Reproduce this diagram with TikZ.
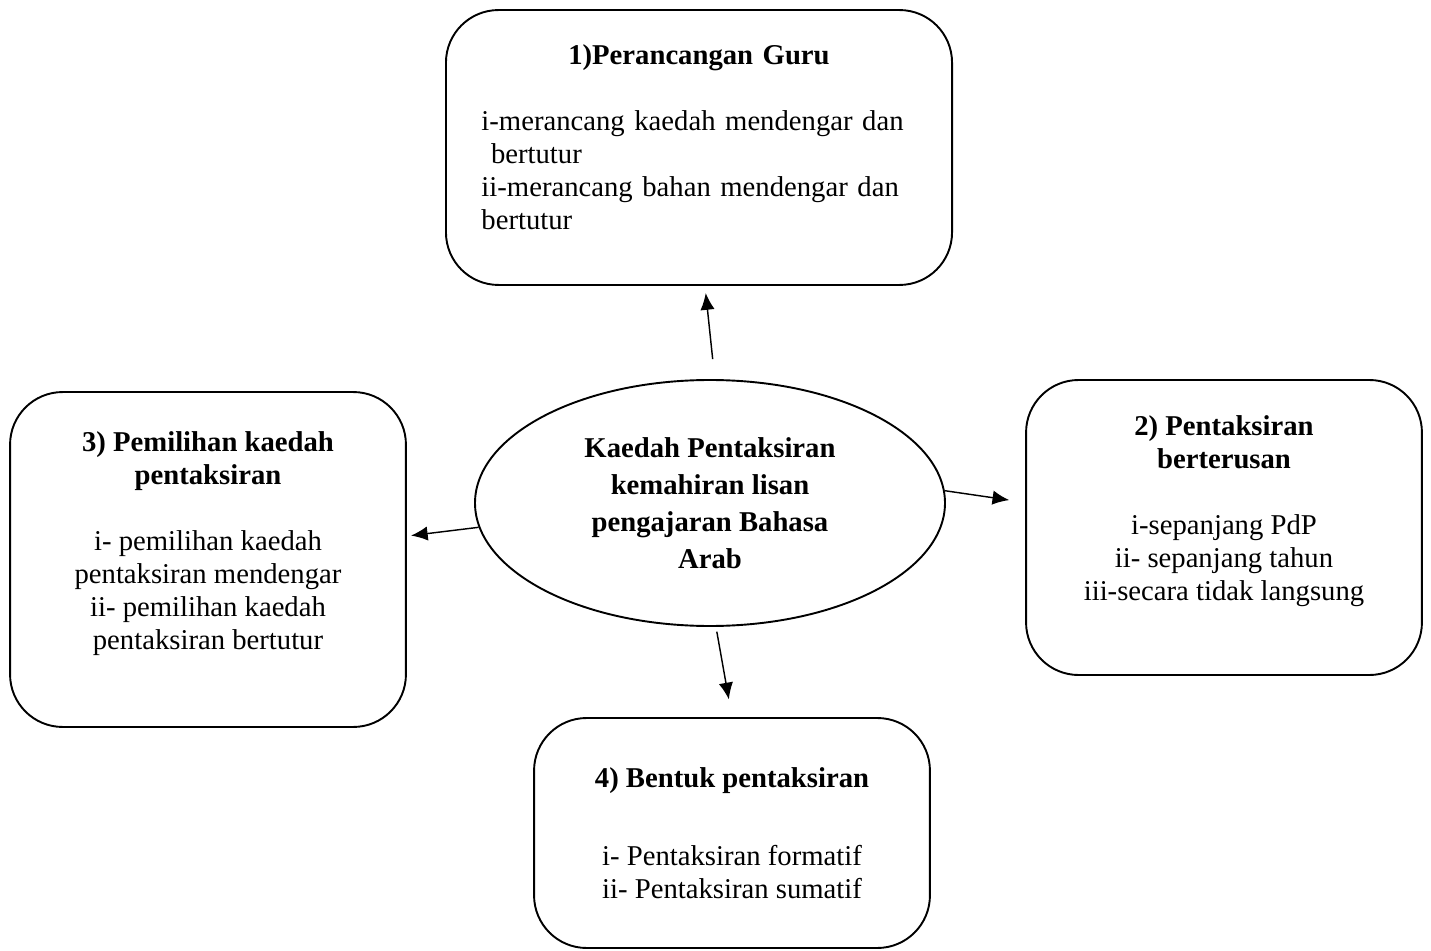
\documentclass[tikz,border=0pt]{standalone}
\usepackage{fontspec}
\setmainfont{Liberation Serif}
\usetikzlibrary{arrows.meta,shapes.geometric}

\tikzset{
  box/.style={draw, line width=0.8pt, rounded corners=22pt, inner sep=0pt, align=center},
  hub/.style={draw, ellipse, line width=0.8pt, inner sep=0pt, minimum width=196.6pt, minimum height=102.9pt, align=center, font=\bfseries\fontsize{12}{15.5}\selectfont},
  link/.style={->, line width=0.6pt}
}
\newcommand{\padbot}[1]{\rule[-#1]{0pt}{#1}}

\begin{document}
\begin{tikzpicture}[x=0.4183pt, y=-0.4183pt, >={Latex[length=7pt,width=6pt]}, font=\fontsize{12}{13.8}\selectfont]
\useasboundingbox (0,0) rectangle (1431,951);

% centre
\node(centre)[hub] at (710,503) {Kaedah Pentaksiran\\ kemahiran lisan\\ pengajaran Bahasa\\ Arab};

% the four boxes
\node(guru)[box, align=left, text width=182pt, minimum width=211.7pt, minimum height=115pt] at (699,147.5) {\makebox[\linewidth]{\textbf{1)Perancangan Guru}}\\[13.8pt]
i-merancang kaedah mendengar dan\\
\ bertutur\\
ii-merancang bahan mendengar dan\\
bertutur\padbot{9pt}};
\node(terus)[box, minimum width=165.6pt, minimum height=123.4pt] at (1224,527.5) {\textbf{2) Pentaksiran}\\ \textbf{berterusan}\\[13.8pt]
i-sepanjang PdP\\ ii- sepanjang tahun\\ iii-secara tidak langsung\padbot{16.4pt}};
\node(pilih)[box, minimum width=165.6pt, minimum height=140.1pt] at (208,559.5) {\textbf{3) Pemilihan kaedah}\\ \textbf{pentaksiran}\\[13.8pt]
i- pemilihan kaedah\\ pentaksiran mendengar\\ ii- pemilihan kaedah\\ pentaksiran bertutur\padbot{16pt}};
\node(bentuk)[box, minimum width=165.6pt, minimum height=96.2pt] at (732,833) {\textbf{4) Bentuk pentaksiran}\\[19pt]
i- Pentaksiran formatif\\ ii- Pentaksiran sumatif};

% arrows
\draw[link, shorten <=8.4pt, shorten >=3pt] ([xshift=2pt]centre.north) -- ([xshift=2.5pt]guru.south);
\draw[link, shorten >=6.7pt] (centre.3) -- ([yshift=10.5pt]terus.west);
\draw[link, shorten >=1.7pt] (centre.186) -- ([yshift=9.8pt]pilih.east);
\draw[link, shorten <=2pt, shorten >=7.5pt] ([xshift=2.5pt]centre.south) -- (bentuk.north);

\end{tikzpicture}
\end{document}
